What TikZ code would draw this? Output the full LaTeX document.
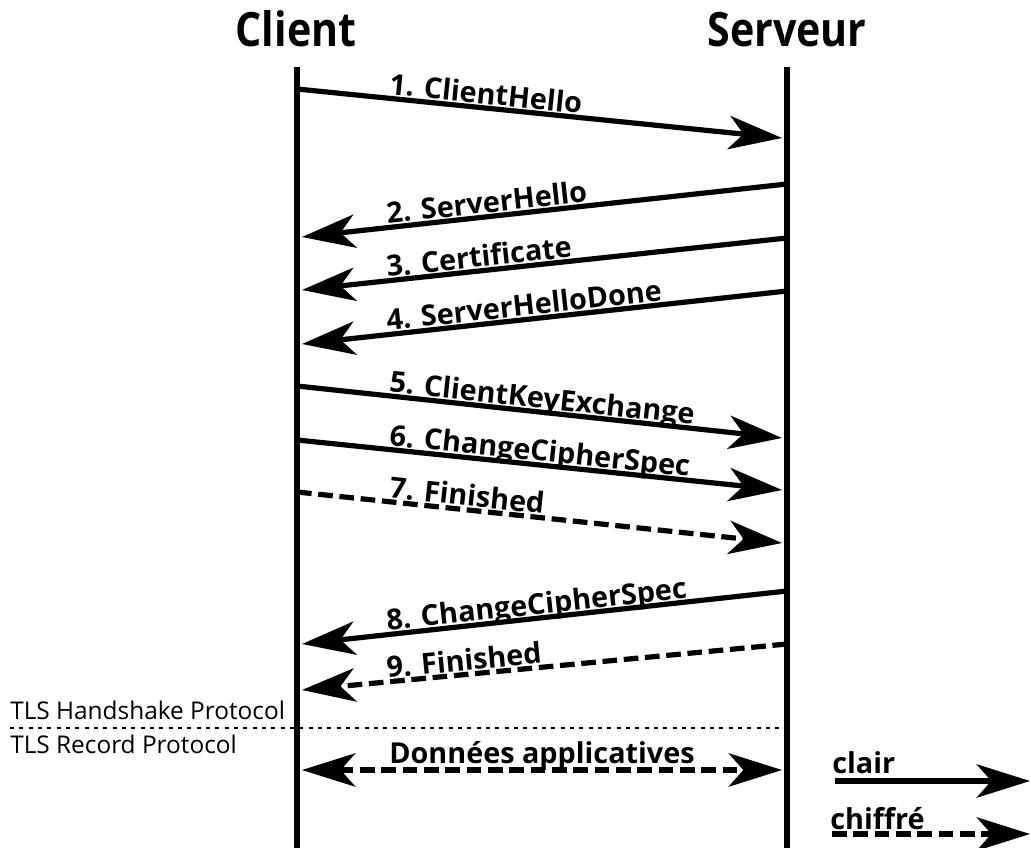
\documentclass[tikz,border=0pt]{standalone}
\usepackage{fontspec}
\setmainfont{Open Sans}
\newfontfamily\titlefont[FakeStretch=0.87]{Open Sans}
\usetikzlibrary{arrows.meta}
\tikzset{
  life/.style={line width=3.9pt},
  msg/.style={line width=3.9pt, -{Stealth[length=40pt,width=25pt,inset=11pt]}},
  enc/.style={msg, dash pattern=on 11pt off 5pt},
  lbl/.style={font=\bfseries\fontsize{21.6}{26}\selectfont, sloped, anchor=base west, inner sep=0pt, yshift=3pt},
  title/.style={font=\titlefont\bfseries\fontsize{35.5}{40}\selectfont, anchor=base, inner sep=0pt},
  small/.style={font=\fontsize{18.3}{20}\selectfont, anchor=base west, inner sep=0pt},
}
\begin{document}
\begin{tikzpicture}[x=0.75pt,y=-0.75pt]
\useasboundingbox (0,0) rectangle (1031,848);
% titles
\node[title] (tc) at (296,47) {Client};
\node[title] (ts) at (787,47) {Serveur};
% lifelines
\coordinate (ctop) at (297,67); \coordinate (cbot) at (297,848);
\coordinate (stop) at (787,67); \coordinate (sbot) at (787,848);
\draw[life] (ctop) -- (cbot);
\draw[life] (stop) -- (sbot);
% message end points
\coordinate (c1) at (297,89);  \coordinate (s1) at (782,138);
\coordinate (s2) at (787,184); \coordinate (c2) at (302,237);
\coordinate (s3) at (787,238); \coordinate (c3) at (302,290);
\coordinate (s4) at (787,291); \coordinate (c4) at (302,344);
\coordinate (c5) at (297,386); \coordinate (s5) at (782,438);
\coordinate (c6) at (297,440); \coordinate (s6) at (782,490);
\coordinate (c7) at (297,492); \coordinate (s7) at (782,543);
\coordinate (s8) at (787,591); \coordinate (c8) at (302,644);
\coordinate (s9) at (787,644); \coordinate (c9) at (302,690);
\draw[msg] (c1) -- (s1) node[lbl, pos=0.183] {1. ClientHello};
\draw[msg] (s2) -- (c2) node[lbl, pos=0.828] {2. ServerHello};
\draw[msg] (s3) -- (c3) node[lbl, pos=0.828] {3. Certificate};
\draw[msg] (s4) -- (c4) node[lbl, pos=0.828] {4. ServerHelloDone};
\draw[msg] (c5) -- (s5) node[lbl, pos=0.183] {5. ClientKeyExchange};
\draw[msg] (c6) -- (s6) node[lbl, pos=0.183] {6. ChangeCipherSpec};
\draw[enc] (c7) -- (s7) node[lbl, pos=0.183] {7. Finished};
\draw[msg] (s8) -- (c8) node[lbl, pos=0.828] {8. ChangeCipherSpec};
\draw[enc] (s9) -- (c9) node[lbl, pos=0.828] {9. Finished};
% separator
\coordinate (sepl) at (10,728); \coordinate (sepr) at (787,728);
\draw[line width=1.1pt, dash pattern=on 3pt off 4pt] (sepl) -- (sepr);
\node[small] (hs) at (10,719) {TLS Handshake Protocol};
\node[small] (rp) at (10,753) {TLS Record Protocol};
% application data
\coordinate (dl) at (302,770); \coordinate (dr) at (782,770);
\draw[enc, {Stealth[length=40pt,width=25pt,inset=11pt]}-{Stealth[length=40pt,width=25pt,inset=11pt]}] (dl) -- (dr)
  node[font=\bfseries\fontsize{21.6}{26}\selectfont, anchor=base, inner sep=0pt, pos=0.5, yshift=5pt] (ad) {Données applicatives};
% legend
\coordinate (l1a) at (835,781); \coordinate (l1b) at (1030,781);
\coordinate (l2a) at (832,834); \coordinate (l2b) at (1030,834);
\draw[msg] (l1a) -- (l1b);
\draw[enc] (l2a) -- (l2b);
\node[font=\bfseries\fontsize{21.6}{26}\selectfont, anchor=base west, inner sep=0pt] (clair) at (832,773) {clair};
\node[font=\bfseries\fontsize{21.6}{26}\selectfont, anchor=base west, inner sep=0pt] (chif) at (830,829) {chiffré};
\end{tikzpicture}
\end{document}
